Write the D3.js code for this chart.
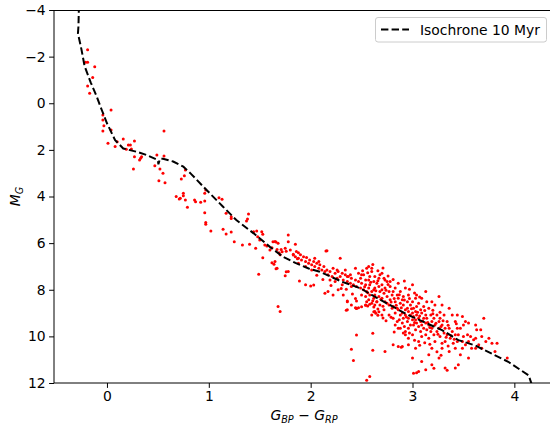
<!DOCTYPE html>
<html>
<head>
<meta charset="utf-8">
<script src="https://cdn.jsdelivr.net/npm/d3@7"></script>
<style>
body { margin: 0; background: #fff; }
text { font-family: "DejaVu Sans", sans-serif; fill: #000; }
</style>
</head>
<body>
<div id="cmd"></div>
<script>
// isochrone track (BP-RP colour, absolute G mag)
const isoColor = [-0.275, -0.28, -0.285, -0.25, -0.22, -0.16, -0.10, -0.05, 0.0, 0.08, 0.16, 0.29, 0.39, 0.50, 0.505, 0.52, 0.55, 0.65, 0.75, 0.83, 0.98, 1.14, 1.27, 1.44, 1.60, 1.73, 1.85, 1.98, 2.09, 2.31, 2.49, 2.63, 2.96, 3.29, 3.45, 3.61, 3.94, 4.14, 4.17];
const isoMag   = [-4.2, -3.3, -3.0, -2.3, -1.6, -0.9, -0.28, 0.3, 0.86, 1.58, 1.94, 2.08, 2.22, 2.44, 2.62, 2.38, 2.38, 2.50, 2.72, 3.05, 3.73, 4.44, 5.01, 5.58, 6.16, 6.59, 6.85, 7.09, 7.23, 7.66, 7.94, 8.30, 9.09, 9.73, 10.16, 10.38, 11.09, 11.67, 12.05];

// member stars [BP-RP, M_G]
const stars = [
  [-0.19,-2.29],[-0.21,-1.76],[-0.19,-1.76],[-0.12,-1.57],[-0.14,-1.10],[-0.19,-0.74],[-0.17,-0.43],
  [0.04,0.29],[-0.04,0.50],[-0.04,0.72],[-0.03,0.97],[-0.04,1.19],[0.04,1.15],[0.01,1.72],[0.10,1.65],
  [0.16,1.53],[0.08,1.86],[0.27,1.62],[0.21,1.79],[0.23,1.79],[0.24,1.96],[0.19,1.97],[0.27,2.29],
  [0.32,2.43],[0.33,2.36],[0.34,2.29],[0.26,2.82],[0.56,1.19],[0.49,2.22],[0.56,2.26],[0.47,2.68],
  [0.52,2.82],[0.55,3.00],[0.51,3.32],[0.57,3.41],[0.77,2.86],[0.76,3.11],[0.73,3.25],[0.68,4.00],
  [0.72,4.08],[0.75,3.86],[0.75,3.97],[0.71,4.11],[0.77,4.15],[0.79,4.46],[0.86,4.15],[0.87,4.22],
  [0.92,4.25],[0.96,4.19],[0.97,3.72],[0.96,3.86],[0.96,4.70],[0.97,5.11],[0.97,5.19],[1.02,5.48],
  [1.10,4.05],[1.13,4.12],[1.14,5.41],[1.17,5.61],[1.22,5.52],[1.17,4.72],[1.22,4.87],[1.22,4.94],
  [1.25,5.94],[1.33,6.08],[1.39,4.75],[1.38,4.97],[1.37,5.05],[1.40,6.05],[1.44,5.51],[1.47,5.48],
  [1.48,5.73],[1.52,5.51],[1.53,5.62],[1.50,5.87],[1.46,6.22],[1.55,6.08],[1.57,6.12],[1.60,6.30],
  [1.62,6.20],[1.63,5.94],[1.66,5.95],[1.67,6.27],[1.69,6.41],[1.71,6.27],[1.75,6.22],[1.76,6.35],
  [1.78,5.65],[1.78,5.94],[1.80,6.30],[1.53,6.63],[1.62,6.84],[1.64,6.91],[1.66,7.10],[1.49,7.33],
  [1.76,7.23],[1.75,7.40],[1.83,6.51],[1.87,6.67],[1.88,6.41],[1.85,6.05],[1.72,6.37],[1.89,7.63],
  [2.00,7.84],[2.03,7.80],[2.15,6.34],[1.68,8.72],[1.70,8.93],[1.65,5.93],[1.68,6.00],[1.70,6.50],
  [1.65,6.79],[1.67,7.08],[1.78,7.22],
  [1.83,6.48],[1.85,6.58],[1.86,6.36],[1.88,6.65],[1.90,6.50],[1.91,6.72],[1.93,6.58],[1.95,6.79],
  [1.96,6.62],[1.98,6.86],[1.99,6.72],[2.01,6.93],[2.03,6.79],[2.04,7.00],[2.06,6.86],[2.08,7.08],
  [2.09,6.93],[2.11,7.15],[2.13,7.00],[2.14,7.22],[2.08,6.79],[1.88,6.86],[1.95,7.00],[2.01,7.15],
  [2.16,6.33],[2.04,6.65],[1.95,7.79],[2.14,8.15],[2.17,8.08],[2.22,8.22],
  [2.16,7.15],[2.17,7.36],[2.19,7.22],[2.21,7.43],[2.22,7.08],[2.24,7.29],[2.26,7.51],[2.27,7.22],
  [2.29,6.65],[2.29,7.43],[2.31,7.29],[2.32,7.58],[2.34,7.36],[2.36,7.65],[2.37,7.43],[2.39,7.72],
  [2.40,7.51],[2.42,7.79],[2.44,7.08],[2.44,7.58],[2.45,7.86],[2.47,7.29],[2.47,7.65],[2.19,7.58],
  [2.24,7.65],[2.31,7.79],[2.36,7.43],[2.40,7.86],[2.39,7.36],[2.26,7.15],[2.34,7.15],
  [2.36,8.51],[2.36,8.86],[2.40,8.65],[2.45,8.79],[2.32,8.22],[2.27,8.00],
  [2.45,9.94],[2.61,9.87],[2.40,10.55],[2.61,10.60],[2.42,11.03],[2.58,11.72],[2.55,11.88],
  [2.35,8.88],[2.44,8.77],[2.45,8.80],[2.47,8.77],[2.50,8.73],[2.54,8.66],[2.56,8.70],[2.62,8.94],
  [2.64,9.01],[2.66,9.09],[2.67,8.94],[2.36,8.48],[2.45,8.48],[2.55,8.51],[2.65,8.51],
  [2.49,7.51],[2.49,7.93],[2.50,7.72],[2.50,8.22],[2.52,7.36],[2.52,8.00],[2.54,7.79],[2.54,8.29],
  [2.55,7.08],[2.55,8.08],[2.57,7.58],[2.57,7.93],[2.57,8.43],[2.58,7.79],[2.58,8.22],[2.60,7.22],
  [2.60,8.08],[2.60,8.58],[2.62,7.65],[2.62,8.36],[2.63,7.43],[2.63,7.93],[2.63,8.22],[2.65,7.72],
  [2.65,8.51],[2.67,7.86],[2.67,8.29],[2.68,7.36],[2.68,8.08],[2.68,8.65],[2.70,7.29],[2.70,7.79],
  [2.70,8.36],[2.72,7.51],[2.72,8.15],[2.72,8.86],[2.73,7.93],[2.73,8.51],[2.75,7.65],[2.75,8.29],
  [2.77,8.08],[2.77,8.65],[2.78,7.86],[2.78,8.43],[2.80,8.22],[2.80,8.79],[2.50,7.36],[2.58,7.43],
  [2.67,7.51],[2.73,7.58],[2.78,7.65],[2.54,8.65],[2.63,8.93],[2.70,9.08],[2.60,9.08],[2.77,9.08],
  [2.63,8.65],[2.54,7.58],[2.62,8.00],[2.70,8.00],[2.75,8.58],[2.57,7.00],[2.60,7.08],
  [2.73,10.65],[2.81,10.36],[2.86,10.43],[2.90,10.43],
  [2.81,8.08],[2.81,8.72],[2.81,9.22],[2.83,7.93],[2.83,8.51],[2.83,9.00],[2.85,8.22],[2.85,8.79],
  [2.85,9.36],[2.86,8.36],[2.86,8.86],[2.86,9.65],[2.88,8.08],[2.88,8.58],[2.88,9.08],[2.90,8.43],
  [2.90,9.00],[2.90,9.43],[2.91,8.29],[2.91,8.65],[2.91,9.22],[2.93,7.93],[2.93,8.86],[2.93,9.08],
  [2.93,9.79],[2.95,8.51],[2.95,8.79],[2.95,9.36],[2.96,8.22],[2.96,8.93],[2.96,9.22],[2.96,9.65],
  [2.98,8.65],[2.98,9.08],[2.98,9.51],[3.00,7.79],[3.00,8.51],[3.00,9.00],[3.00,9.29],[3.00,9.93],
  [3.01,8.79],[3.01,9.15],[3.01,9.51],[3.03,8.36],[3.03,8.93],[3.03,9.29],[3.03,9.72],[3.04,8.22],
  [3.04,8.72],[3.04,9.08],[3.04,9.43],[3.06,8.58],[3.06,9.22],[3.06,9.58],[3.06,10.22],[3.08,8.86],
  [3.08,9.36],[3.08,9.79],[3.09,8.36],[3.09,9.00],[3.09,9.51],[3.09,10.00],[3.11,8.72],[3.11,9.22],
  [3.11,9.65],[3.13,8.08],[3.13,9.08],[3.13,9.43],[3.13,9.93],[2.83,9.51],[2.88,9.65],[2.91,9.86],
  [2.96,10.08],[3.03,10.51],[2.93,9.93],[3.00,10.93],[3.01,11.58],[3.06,11.51],[3.09,11.08],
  [3.13,11.43],[2.96,10.36],[2.89,10.47],[3.04,11.56],[3.21,11.37],[3.34,11.45],
  [3.14,9.22],[3.14,9.72],[3.16,8.79],[3.16,9.51],[3.16,10.08],[3.18,9.08],[3.18,9.79],[3.19,8.51],
  [3.19,9.36],[3.19,9.65],[3.19,10.51],[3.21,9.22],[3.21,9.93],[3.22,8.65],[3.22,9.51],[3.22,10.22],
  [3.24,9.08],[3.24,9.79],[3.26,8.29],[3.26,9.36],[3.26,9.65],[3.26,10.93],[3.27,9.22],[3.27,10.00],
  [3.29,8.65],[3.29,9.51],[3.29,10.29],[3.31,9.08],[3.31,9.86],[3.32,9.65],[3.32,10.22],[3.32,11.36],
  [3.34,9.36],[3.34,9.93],[3.36,8.79],[3.36,9.65],[3.36,10.65],[3.37,10.08],[3.39,9.08],[3.39,9.79],
  [3.40,10.29],[3.42,9.36],[3.42,9.93],[3.42,10.51],[3.42,11.36],[3.44,9.08],[3.44,9.65],[3.44,10.22],
  [3.45,9.93],[3.45,11.22],[3.16,10.79],[3.19,11.22],[3.29,10.51],
  [3.47,9.65],[3.47,10.79],[3.49,9.15],[3.49,10.22],[3.49,10.51],[3.50,9.51],[3.50,10.00],[3.52,9.36],
  [3.52,10.36],[3.54,9.93],[3.55,9.43],[3.55,10.22],[3.55,10.93],[3.57,10.00],[3.58,10.51],[3.60,10.15],
  [3.62,9.51],[3.62,10.08],[3.62,10.51],[3.63,9.72],[3.65,10.36],[3.67,9.72],[3.68,10.00],[3.68,10.51],
  [3.70,9.22],[3.72,10.22],[3.75,10.08],[3.78,10.29],[3.81,10.65],[3.83,10.29],[3.93,10.93],
  [2.53,7.87],[2.56,8.13],[2.59,7.68],[2.61,8.47],[2.64,8.04],[2.66,7.61],[2.69,8.41],[2.71,8.71],
  [2.74,8.02],[2.76,7.77],[2.79,8.53],[2.82,8.37],[2.84,8.66],[2.87,8.21],[2.89,8.77],[2.92,8.44],
  [2.94,9.17],[2.97,8.37],[2.99,8.82],[3.02,9.41],[3.05,8.97],[3.07,9.13],[3.10,9.34],[3.12,8.89],
  [3.15,9.41],[3.17,9.62],[3.20,9.03],[3.23,9.44],[3.25,9.91],[3.28,9.58],[3.30,9.33],[3.33,10.04],
  [3.35,9.52],[3.38,9.97],[3.41,10.12],[3.43,9.46],
  [2.58,8.62],[2.62,8.74],[2.66,8.83],[2.71,9.21],[2.74,9.33],[2.79,9.18],[2.82,9.81],[2.87,9.29],
  [2.92,9.58],[2.97,9.86],[3.02,10.17],[3.07,10.38],[3.12,10.27],[3.17,10.34],[3.24,10.66],[3.28,10.81],
  [3.35,10.41],
  [2.51,7.18],[2.56,7.27],[2.61,6.92],[2.66,7.19],[2.71,7.07],[2.76,7.41],[2.81,7.56],[2.86,7.72],
  [2.92,7.63],[2.97,7.98],[3.02,8.14],[3.07,8.31],[3.14,8.52],[3.20,8.88],[3.27,8.97],
  [2.30,7.95],[2.35,7.98],[2.41,8.18],[2.44,8.37],[2.20,7.82],[2.12,7.56],[2.06,7.38]
];

const xTicks = [0, 1, 2, 3, 4];
const yTicks = [-4, -2, 0, 2, 4, 6, 8, 10, 12];
const legendLabel = "Isochrone 10 Myr";

const width = 550, height = 430;
const margin = {top: 10, right: 0, bottom: 47, left: 54};

const svg = d3.select("#cmd").append("svg").attr("width", width).attr("height", height);

const x = d3.scaleLinear().domain([-0.52, 4.35]).range([margin.left, width - margin.right]);
const y = d3.scaleLinear().domain([-4, 12]).range([margin.top, height - margin.bottom]);

const fmt = d => (d < 0 ? "\u2212" + Math.abs(d) : String(d));

svg.append("clipPath").attr("id", "plotclip")
  .append("rect")
    .attr("x", margin.left).attr("y", margin.top)
    .attr("width", width - margin.left - margin.right)
    .attr("height", height - margin.top - margin.bottom);

const plot = svg.append("g").attr("clip-path", "url(#plotclip)");

plot.selectAll("circle").data(stars)
  .join("circle")
    .attr("cx", d => x(d[0]))
    .attr("cy", d => y(d[1]))
    .attr("r", 1.5)
    .attr("fill", "#ff0000");

const line = d3.line().x((d, i) => x(isoColor[i])).y((d, i) => y(isoMag[i]));

plot.append("path")
  .datum(isoColor)
  .attr("d", line)
  .attr("fill", "none")
  .attr("stroke", "#000")
  .attr("stroke-width", 2)
  .attr("stroke-dasharray", "7.4,3.2");

// axes
const xAxis = svg.append("g")
  .attr("transform", `translate(0,${height - margin.bottom})`)
  .call(d3.axisBottom(x).tickValues(xTicks).tickFormat(fmt).tickSize(4.9).tickPadding(3.5));
const yAxis = svg.append("g")
  .attr("transform", `translate(${margin.left},0)`)
  .call(d3.axisLeft(y).tickValues(yTicks).tickFormat(fmt).tickSize(4.9).tickPadding(3.5));

[xAxis, yAxis].forEach(a => {
  a.selectAll("text").attr("font-size", 13.9).attr("font-family", "DejaVu Sans").attr("fill", "#000");
  a.selectAll("line, path").attr("stroke", "#000").attr("stroke-width", 1);
});
xAxis.select(".domain").attr("d", `M${margin.left},0H${width}`);
yAxis.select(".domain").attr("d", `M0,${margin.top}V${height - margin.bottom}`);

// top spine
svg.append("line")
  .attr("x1", margin.left).attr("x2", width)
  .attr("y1", margin.top + 0.5).attr("y2", margin.top + 0.5)
  .attr("stroke", "#000").attr("stroke-width", 1);

// axis labels
const xl = svg.append("text")
  .attr("x", 304).attr("y", 420)
  .attr("text-anchor", "middle")
  .attr("font-size", 13.9);
xl.append("tspan").attr("font-style", "italic").text("G");
xl.append("tspan").attr("font-style", "italic").attr("font-size", 9.7).attr("dy", 3).text("BP");
xl.append("tspan").attr("dy", -3).text(" \u2212 ");
xl.append("tspan").attr("font-style", "italic").text("G");
xl.append("tspan").attr("font-style", "italic").attr("font-size", 9.7).attr("dy", 3).text("RP");

const yl = svg.append("text")
  .attr("transform", `translate(20,${(margin.top + height - margin.bottom) / 2}) rotate(-90)`)
  .attr("text-anchor", "middle")
  .attr("font-size", 13.9);
yl.append("tspan").attr("font-style", "italic").text("M");
yl.append("tspan").attr("font-style", "italic").attr("font-size", 9.7).attr("dy", 3).text("G");

// legend
const lg = svg.append("g");
lg.append("rect")
  .attr("x", 375.5).attr("y", 17.5)
  .attr("width", 171).attr("height", 24.5)
  .attr("rx", 2.5)
  .attr("fill", "#fff").attr("fill-opacity", 0.8)
  .attr("stroke", "#cccccc").attr("stroke-width", 1);
lg.append("line")
  .attr("x1", 381).attr("x2", 409)
  .attr("y1", 29.5).attr("y2", 29.5)
  .attr("stroke", "#000").attr("stroke-width", 2)
  .attr("stroke-dasharray", "7.4,3.2");
lg.append("text")
  .attr("x", 420).attr("y", 34.5)
  .attr("font-size", 13.9)
  .text(legendLabel);
</script>
</body>
</html>
